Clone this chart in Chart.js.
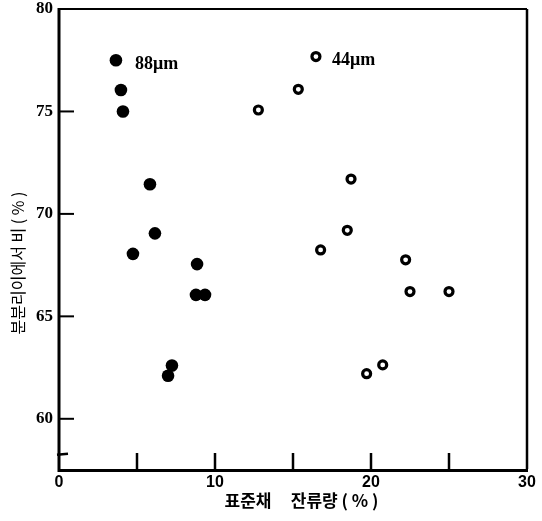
<!DOCTYPE html>
<html>
<head>
<meta charset="utf-8">
<script src="https://cdn.jsdelivr.net/npm/chart.js@4"></script>
<style>
html,body{margin:0;padding:0;background:#fff;}
#wrap{width:542px;height:521px;}
</style>
</head>
<body>
<div id="wrap"><canvas id="c" width="542" height="521"></canvas></div>
<script>
// ---- data ----
const series88Label = "88μm";
const series44Label = "44μm";
const x88 = [3.65, 3.97, 4.1, 5.83, 6.15, 4.74, 8.85, 8.78, 9.36, 7.24, 6.99];
const y88 = [77.5, 76.05, 75.0, 71.45, 69.05, 68.05, 67.55, 66.05, 66.05, 62.6, 62.1];
const x44 = [16.47, 15.34, 12.78, 18.72, 18.48, 16.77, 22.22, 22.5, 25.0, 19.72, 20.75];
const y44 = [77.68, 76.08, 75.07, 71.7, 69.2, 68.24, 67.76, 66.21, 66.21, 62.2, 62.63];
const xTickLabels = [0, 10, 20, 30];
const yTickLabels = [60, 65, 70, 75, 80];
const xTitle = "\u3000표준채     잔류량 ( % )";
const yTitle = "분분리이에서 비 ( % )\u3000\u3000\u3000";

const pts = (xs, ys) => xs.map((x, i) => ({x: x, y: ys[i]}));

const inwardTicks = {
  id: 'inwardTicks',
  afterDraw(chart) {
    const ctx = chart.ctx;
    const xs = chart.scales.x, ys = chart.scales.y;
    const a = chart.chartArea;
    ctx.save();
    ctx.strokeStyle = '#000';
    // frame
    ctx.lineWidth = 2;
    ctx.beginPath();
    ctx.moveTo(a.left, a.top); ctx.lineTo(a.right, a.top);
    ctx.stroke();
    ctx.lineWidth = 2.5;
    ctx.beginPath();
    ctx.moveTo(a.right, a.top); ctx.lineTo(a.right, a.bottom);
    ctx.stroke();
    ctx.lineWidth = 3;
    ctx.beginPath();
    ctx.moveTo(a.left, a.top - 1); ctx.lineTo(a.left, a.bottom + 1.5);
    ctx.lineTo(a.right + 1, a.bottom + 1.5);
    ctx.stroke();
    // x ticks (inward, every 5)
    ctx.lineWidth = 2.5;
    for (const t of xs.ticks) {
      if (t.value <= xs.min || t.value >= xs.max) continue;
      const px = xs.getPixelForValue(t.value);
      ctx.beginPath();
      ctx.moveTo(px, a.bottom);
      ctx.lineTo(px, a.bottom - 16);
      ctx.stroke();
    }
    // y ticks (inward)
    ctx.lineWidth = 2;
    for (const t of ys.ticks) {
      if (t.value % 5 !== 0 || t.value >= ys.max) continue;
      const py = ys.getPixelForValue(t.value);
      ctx.beginPath();
      ctx.moveTo(a.left, py);
      ctx.lineTo(a.left + 15, py);
      ctx.stroke();
    }
    // axis break mark
    const pb = ys.getPixelForValue(58.25);
    ctx.lineWidth = 2.5;
    ctx.beginPath();
    ctx.moveTo(a.left - 2, pb);
    ctx.lineTo(a.left + 9, pb - 1);
    ctx.stroke();
    // series annotations
    ctx.fillStyle = '#000';
    ctx.font = 'bold 18px "Liberation Serif"';
    ctx.textBaseline = 'middle';
    ctx.textAlign = 'left';
    ctx.fillText(series88Label, xs.getPixelForValue(4.87), ys.getPixelForValue(77.3));
    ctx.fillText(series44Label, xs.getPixelForValue(17.5), ys.getPixelForValue(77.5));
    ctx.restore();
  }
};

new Chart(document.getElementById('c'), {
  type: 'scatter',
  data: {
    datasets: [
      {
        label: series88Label,
        data: pts(x88, y88),
        pointRadius: 6.3,
        pointBackgroundColor: '#000',
        pointBorderColor: '#000',
        pointBorderWidth: 0
      },
      {
        label: series44Label,
        data: pts(x44, y44),
        pointRadius: 4,
        pointBackgroundColor: '#fff',
        pointBorderColor: '#000',
        pointBorderWidth: 3.2
      }
    ]
  },
  options: {
    responsive: false,
    animation: false,
    layout: {padding: {left: 0, top: 9, right: 15, bottom: 0}},
    plugins: {legend: {display: false}, tooltip: {enabled: false}},
    scales: {
      x: {
        type: 'linear',
        min: 0, max: 30,
        border: {display: false},
        grid: {display: false, drawTicks: false},
        ticks: {
          stepSize: 5,
          padding: 4,
          color: '#000',
          font: {family: '"Liberation Sans"', weight: 'bold', size: 16},
          callback: v => xTickLabels.includes(v) ? String(v) : ''
        },
        title: {
          display: true, text: xTitle, color: '#000',
          font: {family: '"Noto Sans CJK KR"', weight: 'bold', size: 17},
          padding: {top: 4, bottom: 10}
        },
        afterFit: s => { s.height = 52; s.paddingLeft = 0; s.paddingRight = 0; }
      },
      y: {
        type: 'linear',
        min: 57.55, max: 80,
        border: {display: false},
        grid: {display: false, drawTicks: false},
        ticks: {
          stepSize: 5,
          includeBounds: false,
          padding: 6,
          color: '#000',
          font: {family: '"Liberation Serif"', weight: 'bold', size: 17},
          callback: v => yTickLabels.includes(v) ? String(v) : ''
        },
        title: {
          display: true, text: yTitle, color: '#000',
          font: {family: '"Noto Sans CJK KR"', size: 16},
          padding: {top: 8, bottom: 4}
        },
        afterFit: s => { s.width = 59; s.paddingTop = 0; s.paddingBottom = 0; }
      }
    }
  },
  plugins: [inwardTicks]
});
</script>
</body>
</html>
